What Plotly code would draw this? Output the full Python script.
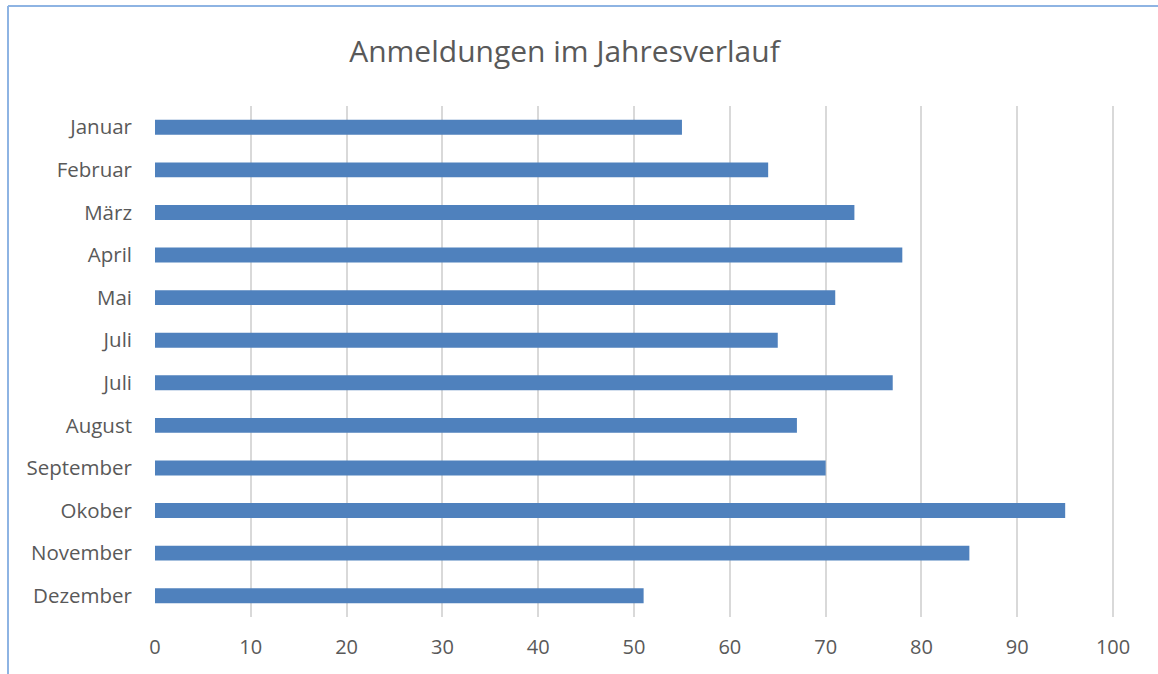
import plotly.graph_objects as go

months = ["Januar", "Februar", "März", "April", "Mai", "Juli", "Juli",
          "August", "September", "Okober", "November", "Dezember"]
values = [55, 64, 73, 78, 71, 65, 77, 67, 70, 95, 85, 51]
x_ticks = [0, 10, 20, 30, 40, 50, 60, 70, 80, 90, 100]

W, H = 1158, 674
L, R, T, B = 155, 43, 106, 57
pw, ph = W - L - R, H - T - B

idx = list(range(len(months)))

fig = go.Figure(go.Bar(
    x=values, y=idx, orientation="h",
    marker=dict(color="#4f81bd", line=dict(width=0)),
    width=0.35,
))

font_family = "Open Sans, Noto Sans, sans-serif"

fig.update_layout(
    width=W, height=H,
    margin=dict(l=L, r=R, t=T, b=B),
    paper_bgcolor="white", plot_bgcolor="white",
    showlegend=False,
    title=dict(text="Anmeldungen im Jahresverlauf", x=564.5 / W, xanchor="center",
               y=1 - 51 / H, yanchor="middle",
               font=dict(family=font_family, size=30, color="#595959")),
    font=dict(family=font_family, color="#595959", size=20),
    xaxis=dict(range=[0, 100.2], tickvals=x_ticks, showgrid=True, gridcolor="#d9d9d9",
               gridwidth=1.5, zeroline=False, showline=False, ticks="",
               ticklabelstandoff=16, tickfont=dict(size=20, color="#595959")),
    yaxis=dict(range=[11.5, -0.5], tickvals=idx, ticktext=months, showgrid=False,
               zeroline=False, showline=False, ticks="", ticklabelstandoff=22,
               tickfont=dict(size=20.5, color="#595959")),
    shapes=[
        dict(type="line", xref="paper", yref="paper",
             x0=(8 - L) / pw, x1=(W + 5 - L) / pw,
             y0=(H - 6 - B) / ph, y1=(H - 6 - B) / ph,
             line=dict(color="#8eb4e3", width=2)),
        dict(type="line", xref="paper", yref="paper",
             x0=(8 - L) / pw, x1=(8 - L) / pw,
             y0=(H - 6 - B) / ph, y1=-(B + 5) / ph,
             line=dict(color="#8eb4e3", width=2)),
    ],
)

fig.write_html("out.html", config={"displayModeBar": False})

with open("out.html", "r", encoding="utf-8") as f:
    html = f.read()
html = html.replace("<head>", "<head><style>html,body{margin:0;padding:0;overflow:hidden;}</style>", 1)
with open("out.html", "w", encoding="utf-8") as f:
    f.write(html)
